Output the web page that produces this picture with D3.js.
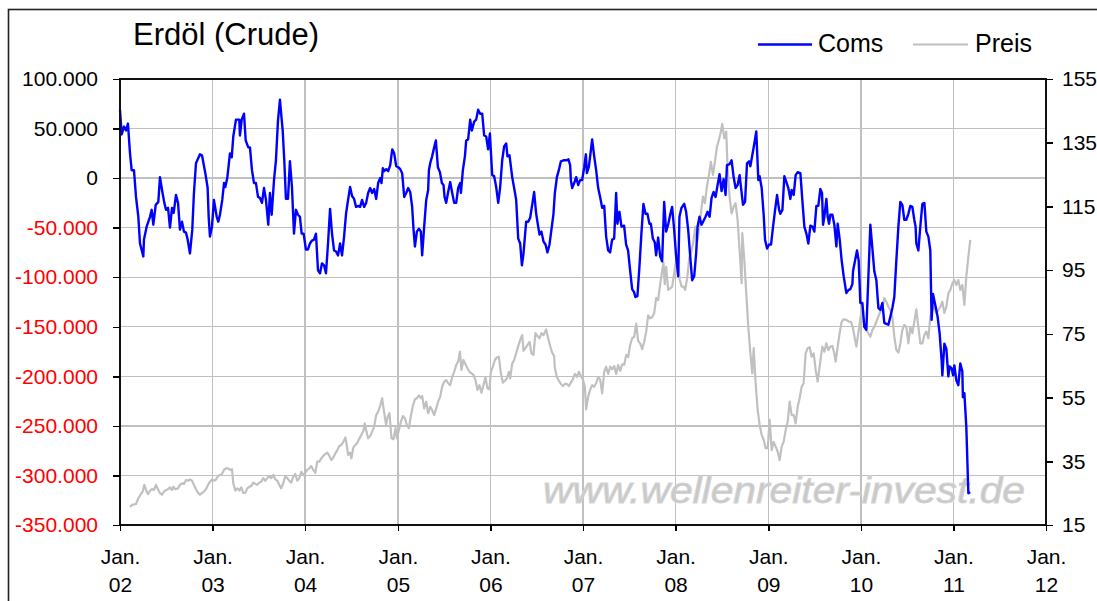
<!DOCTYPE html>
<html>
<head>
<meta charset="UTF-8">
<title>Erdöl (Crude)</title>
<script src="https://d3js.org/d3.v7.min.js"></script>
<style type="text/css">
    body { margin: 0; background: #fff; }
    svg { display: block; font-family: Arial, "Liberation Sans", sans-serif; }
    .axis text { font-size: 21px; fill: #000; }
    .axis path { display: none; }
    .axis line { stroke: #000; stroke-width: 1.5; shape-rendering: crispEdges; }
    .grid line { stroke: #c0c0c0; stroke-width: 1.3; shape-rendering: crispEdges; }
    .line { fill: none; stroke-linejoin: round; }
    .coms-line { stroke: #0000ff; stroke-width: 2.4; }
    .preis-line { stroke: #c0c0c0; stroke-width: 2.2; }
</style>
</head>
<body>
<script type="text/javascript">
// --- data (t = years since Jan 2002) ---
const startYear = 2002;
const yearTicks = ["02", "03", "04", "05", "06", "07", "08", "09", "10", "11", "12"];
const comsTicks = [100000, 50000, 0, -50000, -100000, -150000, -200000, -250000, -300000, -350000];
const preisTicks = [155, 135, 115, 95, 75, 55, 35, 15];

// Commercials net position, thousands of contracts
const coms = [
 [0.000,69],[0.018,44],[0.043,52],[0.065,48],[0.086,55],[0.108,25],[0.126,8],[0.151,8],[0.173,-19],[0.198,-39],
 [0.216,-66],[0.252,-79],[0.259,-62],[0.288,-49],[0.324,-39],[0.342,-32],[0.360,-47],[0.386,-27],[0.414,-24],[0.432,1],
 [0.454,-12],[0.479,-25],[0.497,-32],[0.519,-30],[0.540,-50],[0.562,-30],[0.580,-35],[0.605,-17],[0.627,-25],[0.648,-52],
 [0.670,-44],[0.691,-54],[0.713,-55],[0.731,-62],[0.756,-76],[0.781,-52],[0.799,-15],[0.821,15],[0.864,24],[0.886,23],
 [0.922,5],[0.947,-10],[0.958,-39],[0.972,-59],[0.994,-49],[1.015,-22],[1.045,-39],[1.062,-44],[1.080,-37],[1.105,-22],
 [1.124,-5],[1.138,-9],[1.159,0],[1.188,25],[1.207,21],[1.224,42],[1.253,59],[1.289,59],[1.296,43],[1.315,59],
 [1.340,65],[1.358,38],[1.386,31],[1.404,31],[1.426,8],[1.448,-5],[1.469,-5],[1.491,-19],[1.512,-20],[1.534,-25],
 [1.556,-10],[1.577,-22],[1.602,-47],[1.620,-15],[1.639,-37],[1.664,-2],[1.685,18],[1.707,58],[1.728,79],[1.758,48],
 [1.775,18],[1.793,-21],[1.815,-21],[1.836,17],[1.858,-9],[1.880,-56],[1.901,-32],[1.923,-37],[1.944,-39],[1.963,-56],
 [1.984,-56],[2.009,-72],[2.031,-72],[2.052,-66],[2.074,-63],[2.096,-62],[2.117,-56],[2.139,-93],[2.161,-96],[2.182,-86],
 [2.204,-88],[2.225,-96],[2.247,-66],[2.269,-31],[2.290,-56],[2.312,-73],[2.333,-74],[2.355,-78],[2.377,-66],[2.398,-78],
 [2.420,-59],[2.441,-36],[2.463,-22],[2.485,-9],[2.506,-18],[2.528,-21],[2.549,-29],[2.574,-28],[2.593,-29],[2.614,-22],
 [2.636,-29],[2.658,-25],[2.679,-15],[2.701,-10],[2.722,-15],[2.744,-11],[2.766,-21],[2.787,-5],[2.809,0],[2.823,-5],
 [2.838,10],[2.852,7],[2.874,9],[2.895,7],[2.917,13],[2.939,29],[2.960,25],[2.982,12],[3.003,11],[3.025,9],
 [3.046,5],[3.068,-19],[3.090,-15],[3.111,-10],[3.133,-14],[3.154,-29],[3.169,-52],[3.184,-69],[3.205,-54],[3.227,-51],
 [3.248,-54],[3.262,-78],[3.284,-49],[3.306,-22],[3.327,-12],[3.335,8],[3.349,15],[3.370,22],[3.392,31],[3.410,38],
 [3.432,11],[3.454,6],[3.475,-5],[3.493,-7],[3.504,-19],[3.522,-25],[3.543,-14],[3.565,-4],[3.587,-15],[3.608,-25],
 [3.630,-25],[3.651,-10],[3.673,-5],[3.681,-15],[3.702,8],[3.724,22],[3.738,38],[3.759,39],[3.781,59],[3.799,48],
 [3.824,57],[3.846,59],[3.867,69],[3.889,65],[3.911,65],[3.932,43],[3.954,42],[3.975,29],[3.994,45],[4.019,3],
 [4.040,2],[4.062,-9],[4.084,-25],[4.105,-9],[4.127,18],[4.148,32],[4.170,35],[4.184,22],[4.206,23],[4.235,1],
 [4.256,-10],[4.278,-22],[4.300,-61],[4.321,-66],[4.340,-88],[4.357,-76],[4.386,-44],[4.408,-44],[4.429,-40],[4.451,-27],
 [4.472,-14],[4.494,-36],[4.516,-49],[4.530,-57],[4.551,-54],[4.573,-64],[4.595,-67],[4.616,-75],[4.638,-67],[4.659,-52],
 [4.681,-36],[4.696,-15],[4.718,1],[4.739,8],[4.761,17],[4.789,18],[4.826,18],[4.843,19],[4.861,13],[4.869,-2],
 [4.883,-10],[4.905,-5],[4.926,1],[4.948,-7],[4.969,-2],[4.991,-2],[5.013,11],[5.031,24],[5.042,5],[5.063,11],
 [5.085,28],[5.099,39],[5.121,22],[5.142,8],[5.164,-10],[5.185,-19],[5.207,-30],[5.229,-28],[5.250,-59],[5.272,-73],
 [5.293,-75],[5.315,-62],[5.337,-61],[5.358,-15],[5.372,-46],[5.394,-34],[5.416,-49],[5.444,-48],[5.466,-67],[5.487,-73],
 [5.509,-93],[5.531,-112],[5.552,-115],[5.566,-120],[5.588,-119],[5.610,-89],[5.631,-56],[5.653,-26],[5.675,-36],[5.696,-36],
 [5.718,-46],[5.733,-46],[5.755,-61],[5.776,-65],[5.790,-78],[5.812,-60],[5.834,-79],[5.855,-84],[5.877,-24],[5.898,-54],
 [5.920,-47],[5.942,-37],[5.963,-29],[5.985,-52],[6.006,-79],[6.028,-99],[6.042,-39],[6.064,-30],[6.093,-26],[6.114,-34],
 [6.136,-52],[6.158,-79],[6.179,-103],[6.201,-99],[6.222,-76],[6.237,-49],[6.258,-39],[6.280,-47],[6.302,-43],[6.323,-39],
 [6.345,-34],[6.367,-39],[6.388,-20],[6.410,-14],[6.431,-19],[6.453,-7],[6.474,4],[6.496,-13],[6.518,-1],[6.539,-17],
 [6.554,13],[6.582,14],[6.604,18],[6.626,1],[6.647,-10],[6.669,-7],[6.690,3],[6.705,-9],[6.727,-27],[6.749,-24],
 [6.770,15],[6.792,17],[6.806,12],[6.827,23],[6.849,35],[6.870,47],[6.892,-2],[6.906,2],[6.928,-10],[6.949,-36],
 [6.964,-62],[6.986,-71],[7.008,-67],[7.029,-67],[7.051,-49],[7.073,-32],[7.094,-17],[7.116,-32],[7.130,-36],[7.152,-32],
 [7.173,2],[7.195,-4],[7.216,-10],[7.238,-21],[7.252,-12],[7.274,-17],[7.295,3],[7.317,6],[7.346,5],[7.367,-22],
 [7.389,-49],[7.411,-56],[7.432,-66],[7.454,-48],[7.476,-49],[7.497,-54],[7.519,-28],[7.540,-28],[7.562,-11],[7.580,-15],
 [7.591,-47],[7.605,-39],[7.627,-21],[7.641,-39],[7.656,-46],[7.670,-37],[7.692,-37],[7.713,-47],[7.735,-69],[7.749,-46],
 [7.771,-62],[7.792,-83],[7.814,-99],[7.843,-116],[7.865,-113],[7.886,-112],[7.908,-107],[7.915,-94],[7.937,-83],[7.958,-73],
 [7.976,-83],[7.994,-126],[8.016,-126],[8.037,-150],[8.059,-153],[8.081,-99],[8.102,-47],[8.124,-71],[8.145,-94],[8.167,-103],
 [8.189,-131],[8.210,-133],[8.232,-126],[8.253,-146],[8.275,-147],[8.297,-148],[8.318,-140],[8.340,-131],[8.361,-120],[8.383,-83],
 [8.405,-49],[8.426,-24],[8.448,-27],[8.469,-42],[8.491,-42],[8.513,-36],[8.534,-28],[8.556,-29],[8.577,-42],[8.591,-49],
 [8.599,-66],[8.621,-73],[8.642,-49],[8.664,-26],[8.686,-25],[8.707,-54],[8.729,-59],[8.750,-73],[8.764,-143],[8.779,-117],
 [8.808,-130],[8.829,-140],[8.851,-157],[8.873,-185],[8.880,-199],[8.902,-167],[8.923,-172],[8.945,-200],[8.959,-190],[8.981,-192],
 [8.996,-199],[9.010,-189],[9.031,-204],[9.053,-209],[9.074,-187],[9.096,-195],[9.102,-221],[9.118,-217],[9.139,-251],[9.161,-318],
 [9.182,-317]
];

// Crude oil price, USD
const preis = [
 [0.108,20.7],[0.130,21.3],[0.173,21.6],[0.198,23.4],[0.224,24.6],[0.245,25.5],[0.263,27.6],[0.281,26.0],[0.302,24.7],[0.324,25.7],
 [0.346,26.3],[0.367,26.0],[0.389,27.6],[0.410,26.2],[0.432,25.0],[0.454,24.5],[0.475,25.5],[0.497,26.0],[0.519,26.2],[0.540,26.8],
 [0.562,26.0],[0.576,27.0],[0.597,26.2],[0.627,26.5],[0.648,27.6],[0.670,28.1],[0.691,27.9],[0.713,29.1],[0.735,28.9],[0.756,29.3],
 [0.778,28.9],[0.799,27.6],[0.821,26.2],[0.843,25.1],[0.864,24.5],[0.886,25.0],[0.907,25.5],[0.929,26.2],[0.951,27.6],[0.972,28.6],
 [0.994,29.3],[1.015,28.9],[1.037,29.3],[1.059,30.4],[1.080,30.7],[1.102,31.0],[1.123,32.3],[1.145,32.8],[1.167,32.8],[1.188,32.3],
 [1.210,32.5],[1.224,28.1],[1.246,25.8],[1.267,26.5],[1.289,25.8],[1.310,26.8],[1.332,25.1],[1.354,25.1],[1.375,26.5],[1.397,27.0],
 [1.418,27.2],[1.440,28.3],[1.462,27.9],[1.483,27.6],[1.505,28.3],[1.526,28.6],[1.548,29.7],[1.570,28.9],[1.591,29.7],[1.613,30.4],
 [1.634,29.7],[1.656,30.7],[1.678,29.3],[1.699,28.9],[1.721,27.6],[1.742,26.5],[1.764,28.1],[1.786,30.4],[1.807,29.7],[1.829,28.9],
 [1.850,28.3],[1.872,30.2],[1.894,31.0],[1.915,28.9],[1.937,29.7],[1.959,31.7],[1.980,30.7],[2.002,31.4],[2.023,32.3],[2.045,32.8],
 [2.067,33.5],[2.088,32.3],[2.110,31.4],[2.131,34.9],[2.153,34.9],[2.175,35.9],[2.196,36.7],[2.218,37.3],[2.239,37.7],[2.261,36.7],
 [2.283,35.4],[2.304,36.2],[2.326,37.5],[2.347,38.5],[2.369,39.8],[2.391,40.1],[2.412,41.1],[2.434,42.5],[2.449,40.1],[2.463,37.0],
 [2.485,37.7],[2.499,35.9],[2.520,39.4],[2.542,40.1],[2.563,40.8],[2.585,42.2],[2.607,43.3],[2.628,44.6],[2.643,46.9],[2.657,44.8],
 [2.679,42.2],[2.701,42.9],[2.722,44.3],[2.744,45.9],[2.766,49.5],[2.787,50.6],[2.809,52.4],[2.830,54.8],[2.852,50.3],[2.873,46.4],
 [2.888,48.8],[2.909,50.1],[2.931,42.2],[2.952,41.9],[2.974,45.4],[2.989,42.2],[3.011,44.8],[3.032,47.4],[3.054,49.2],[3.076,48.5],
 [3.097,46.4],[3.119,45.4],[3.140,49.2],[3.162,52.4],[3.184,54.5],[3.205,54.8],[3.227,55.7],[3.248,54.8],[3.262,55.5],[3.284,51.6],
 [3.306,53.7],[3.327,50.1],[3.349,52.1],[3.370,51.1],[3.392,49.5],[3.414,51.6],[3.435,53.7],[3.457,55.3],[3.478,58.4],[3.500,60.0],
 [3.522,60.5],[3.543,59.5],[3.565,58.9],[3.587,61.5],[3.608,63.1],[3.630,65.2],[3.651,66.3],[3.670,69.4],[3.687,63.7],[3.708,66.8],
 [3.730,65.5],[3.752,64.2],[3.773,63.1],[3.795,62.6],[3.817,62.1],[3.838,60.5],[3.860,57.4],[3.881,58.9],[3.903,56.5],[3.925,58.9],
 [3.946,61.4],[3.968,57.9],[3.989,57.6],[4.005,63.1],[4.026,64.7],[4.048,66.8],[4.069,67.6],[4.091,67.8],[4.113,62.6],[4.134,59.7],
 [4.156,60.3],[4.177,61.0],[4.199,63.1],[4.213,61.0],[4.235,65.7],[4.256,66.8],[4.278,68.9],[4.299,71.0],[4.321,73.1],[4.343,74.6],
 [4.357,69.7],[4.378,70.5],[4.400,71.5],[4.422,72.5],[4.443,68.9],[4.465,68.4],[4.486,75.2],[4.508,74.3],[4.530,73.6],[4.551,75.2],
 [4.573,74.6],[4.602,76.4],[4.624,73.6],[4.645,71.2],[4.667,69.1],[4.688,68.0],[4.696,64.2],[4.717,61.5],[4.739,60.3],[4.761,59.3],
 [4.782,58.6],[4.804,59.3],[4.825,59.3],[4.847,58.6],[4.869,59.7],[4.890,60.7],[4.912,62.4],[4.934,61.5],[4.955,63.1],[4.977,61.8],
 [4.998,60.7],[5.020,58.4],[5.034,51.3],[5.056,55.3],[5.077,57.4],[5.099,58.9],[5.120,58.4],[5.142,59.5],[5.164,61.4],[5.185,60.7],
 [5.207,56.3],[5.229,63.1],[5.250,64.7],[5.272,62.4],[5.293,64.7],[5.315,63.9],[5.337,64.9],[5.358,62.4],[5.380,65.2],[5.402,63.4],
 [5.423,65.4],[5.445,65.3],[5.467,68.4],[5.488,67.7],[5.510,71.5],[5.531,73.6],[5.553,74.1],[5.575,78.2],[5.596,72.8],[5.618,72.0],
 [5.640,70.2],[5.661,72.5],[5.683,75.7],[5.704,80.8],[5.726,79.9],[5.748,80.3],[5.769,81.5],[5.791,86.3],[5.812,85.6],[5.834,90.6],
 [5.856,94.8],[5.870,97.4],[5.883,90.6],[5.899,96.0],[5.920,88.8],[5.942,89.3],[5.964,89.8],[5.985,94.0],[6.007,98.3],[6.023,99.3],
 [6.045,92.0],[6.066,89.8],[6.088,89.8],[6.104,88.8],[6.126,92.5],[6.147,98.7],[6.169,100.6],[6.190,103.5],[6.212,108.6],[6.233,104.0],
 [6.255,108.2],[6.273,112.8],[6.295,118.1],[6.316,116.0],[6.338,121.2],[6.360,124.9],[6.381,129.0],[6.403,124.9],[6.424,129.0],[6.446,133.7],
 [6.468,135.9],[6.489,138.5],[6.503,140.9],[6.525,136.4],[6.546,138.5],[6.560,127.5],[6.582,118.1],[6.604,112.8],[6.626,114.9],[6.647,116.0],
 [6.669,110.7],[6.690,101.3],[6.712,90.9],[6.719,106.6],[6.741,98.2],[6.762,87.7],[6.784,77.2],[6.806,68.9],[6.827,62.6],[6.842,70.5],
 [6.863,59.5],[6.885,51.1],[6.906,46.4],[6.928,43.3],[6.950,41.7],[6.971,39.1],[6.993,39.1],[7.014,48.0],[7.036,38.5],[7.057,41.1],
 [7.079,39.6],[7.101,38.0],[7.122,35.4],[7.144,39.6],[7.165,41.1],[7.187,44.8],[7.209,47.4],[7.230,53.7],[7.252,49.5],[7.274,49.5],
 [7.295,46.9],[7.317,52.1],[7.338,54.8],[7.360,58.4],[7.381,59.5],[7.403,68.9],[7.425,70.5],[7.446,70.8],[7.468,67.8],[7.490,68.9],
 [7.511,63.7],[7.533,60.0],[7.554,64.7],[7.583,71.0],[7.605,69.4],[7.626,72.0],[7.648,69.9],[7.670,71.0],[7.691,71.2],[7.713,68.9],
 [7.727,66.3],[7.749,71.0],[7.770,75.2],[7.792,78.8],[7.814,79.6],[7.843,79.4],[7.872,78.8],[7.893,78.8],[7.915,76.7],[7.937,73.1],
 [7.951,71.0],[7.972,75.2],[7.994,79.9],[8.016,82.5],[8.037,77.2],[8.059,76.2],[8.080,75.2],[8.102,74.1],[8.124,76.2],[8.145,77.2],
 [8.167,78.8],[8.188,80.4],[8.210,82.0],[8.232,83.0],[8.253,86.2],[8.275,85.1],[8.297,83.5],[8.318,82.5],[8.340,80.4],[8.361,74.1],
 [8.383,69.9],[8.405,69.1],[8.426,72.0],[8.448,76.2],[8.469,77.8],[8.491,77.2],[8.513,72.0],[8.534,77.2],[8.556,75.2],[8.577,78.8],
 [8.599,82.7],[8.621,77.2],[8.642,72.0],[8.664,72.0],[8.685,74.6],[8.707,75.7],[8.729,73.6],[8.750,80.4],[8.772,82.5],[8.793,83.5],
 [8.815,81.5],[8.837,82.5],[8.858,83.5],[8.880,85.1],[8.901,81.6],[8.923,83.5],[8.945,87.7],[8.966,88.8],[8.988,90.9],[9.009,91.9],
 [9.031,90.3],[9.053,91.9],[9.074,88.8],[9.096,90.3],[9.118,84.1],[9.139,93.0],[9.161,99.2],[9.182,104.5]
];

// --- layout ---
const W = 1097, H = 601;
const plot = { left: 120, right: 1046, top: 79, bottom: 525 };

const deLocale = d3.formatLocale({ decimal: ",", thousands: ".", grouping: [3], currency: ["", " €"], minus: "-" });
const fmtComs = deLocale.format(",");

// decimal year offset -> Date
function toDate(t) {
    const y = startYear + Math.floor(t);
    const a = Date.UTC(y, 0, 1), b = Date.UTC(y + 1, 0, 1);
    return new Date(a + (t - Math.floor(t)) * (b - a));
}

const x = d3.scaleUtc()
    .domain([new Date(Date.UTC(2002, 0, 1)), new Date(Date.UTC(2012, 0, 1))])
    .range([plot.left, plot.right]);
const yL = d3.scaleLinear().domain([-350000, 100000]).range([plot.bottom, plot.top]);
const yR = d3.scaleLinear().domain([15, 155]).range([plot.bottom, plot.top]);
const yearDates = yearTicks.map((d, i) => new Date(Date.UTC(startYear + i, 0, 1)));

const svg = d3.select("body").append("svg")
    .attr("width", W)
    .attr("height", H);

svg.append("rect").attr("width", W).attr("height", H).attr("fill", "#fff");

// outer frame
svg.append("rect")
    .attr("x", 8.5).attr("y", 9.5)
    .attr("width", W + 10).attr("height", H + 10)
    .attr("fill", "none").attr("stroke", "#222").attr("stroke-width", 1.6);

// grid
const grid = svg.append("g").attr("class", "grid");
grid.selectAll(".h").data(comsTicks).join("line")
    .attr("x1", plot.left).attr("x2", plot.right)
    .attr("y1", d => yL(d)).attr("y2", d => yL(d));
grid.selectAll(".v").data(yearDates).join("line")
    .attr("x1", d => x(d)).attr("x2", d => x(d))
    .attr("y1", plot.top).attr("y2", plot.bottom)
    .attr("stroke", "#d0d0d0");

// watermark
svg.append("text")
    .attr("x", 543).attr("y", 503)
    .attr("textLength", 482).attr("lengthAdjust", "spacingAndGlyphs")
    .style("font-size", "36px").style("font-style", "italic")
    .style("fill", "#c8c8c8").style("stroke", "#d4d4d4").style("stroke-width", 0.9)
    .text("www.wellenreiter-invest.de");

// lines
const linePreis = d3.line().x(d => x(toDate(d[0]))).y(d => yR(d[1]));
const lineComs = d3.line().x(d => x(toDate(d[0]))).y(d => yL(d[1] * 1000));

svg.append("path").datum(preis).attr("class", "line preis-line").attr("d", linePreis);
svg.append("path").datum(coms).attr("class", "line coms-line").attr("d", lineComs);

// plot frame
svg.append("rect")
    .attr("x", plot.left).attr("y", plot.top)
    .attr("width", plot.right - plot.left).attr("height", plot.bottom - plot.top)
    .attr("fill", "none").attr("stroke", "#111").attr("stroke-width", 2);

// left axis
const axL = svg.append("g").attr("class", "axis")
    .attr("transform", "translate(" + plot.left + ",0)")
    .call(d3.axisLeft(yL).tickValues(comsTicks).tickSize(7).tickPadding(15).tickFormat(fmtComs));
axL.selectAll("text").style("fill", d => d < 0 ? "#ff0000" : "#000");

// right axis
svg.append("g").attr("class", "axis")
    .attr("transform", "translate(" + plot.right + ",0)")
    .call(d3.axisRight(yR).tickValues(preisTicks).tickSize(7).tickPadding(9));

// bottom axis
const axB = svg.append("g").attr("class", "axis")
    .attr("transform", "translate(0," + plot.bottom + ")")
    .call(d3.axisBottom(x).tickValues(yearDates).tickSize(6).tickFormat(""));
axB.selectAll(".tick").append("text")
    .attr("y", 32).attr("dy", "0.32em").attr("text-anchor", "middle")
    .text("Jan.");
axB.selectAll(".tick").append("text")
    .attr("y", 60).attr("dy", "0.32em").attr("text-anchor", "middle")
    .text((d, i) => yearTicks[i]);

// title
svg.append("text")
    .attr("x", 133).attr("y", 45)
    .style("font-size", "31px")
    .text("Erdöl (Crude)");

// legend
const legend = svg.append("g");
legend.append("line").attr("x1", 758).attr("x2", 812).attr("y1", 44.5).attr("y2", 44.5)
    .attr("stroke", "#0000ff").attr("stroke-width", 2.4);
legend.append("text").attr("x", 818).attr("y", 52).style("font-size", "25px").text("Coms");
legend.append("line").attr("x1", 913).attr("x2", 968).attr("y1", 44.5).attr("y2", 44.5)
    .attr("stroke", "#c0c0c0").attr("stroke-width", 2.2);
legend.append("text").attr("x", 975).attr("y", 52).style("font-size", "25px").text("Preis");
</script>
</body>
</html>
